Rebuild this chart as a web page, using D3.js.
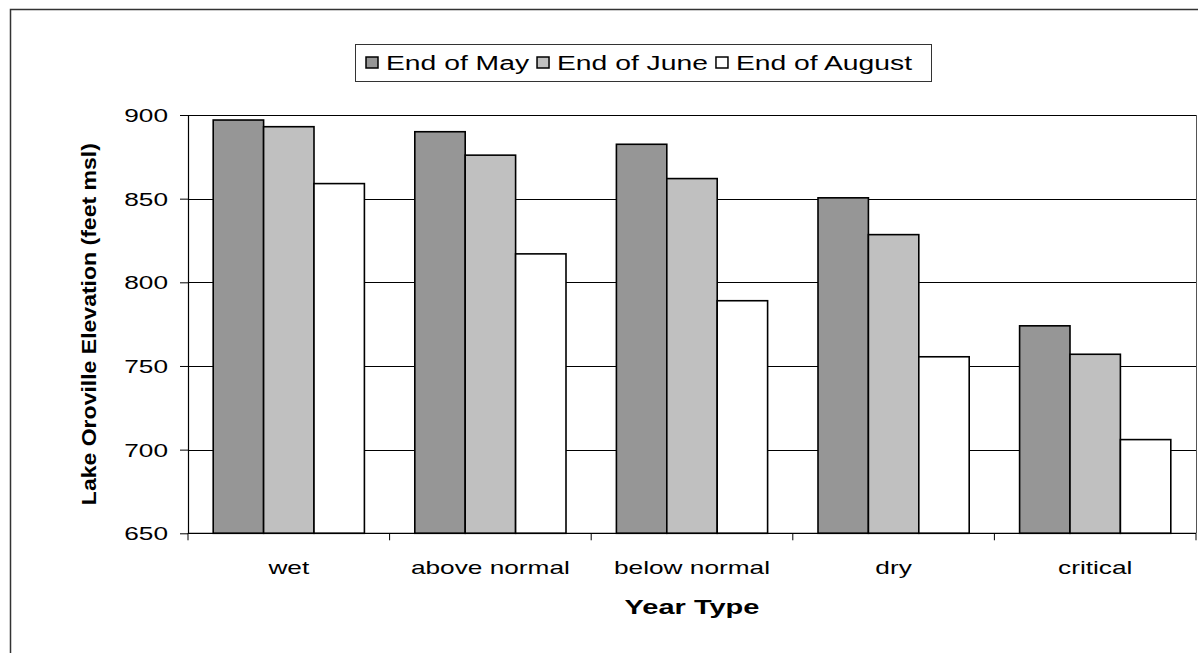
<!DOCTYPE html>
<html>
<head>
<meta charset="utf-8">
<script src="https://cdn.jsdelivr.net/npm/d3@7"></script>
<style>
  html, body { margin: 0; padding: 0; background: #fff; }
  svg { display: block; font-family: "Liberation Sans", Arial, sans-serif; }
</style>
</head>
<body>
<svg id="chart" width="1200" height="653"></svg>
<script>
// ---- data ----
const categories = ["wet", "above normal", "below normal", "dry", "critical"];
const seriesNames = ["End of May", "End of June", "End of August"];
const endOfMay    = [897, 890, 882.5, 850.5, 774];
const endOfJune   = [893, 876, 862, 828.5, 757];
const endOfAugust = [859, 817, 789, 755.5, 706];
const seriesColors = ["#969696", "#c0c0c0", "#ffffff"];
const yTickValues = [650, 700, 750, 800, 850, 900];
const yTitle = "Lake Oroville Elevation (feet msl)";
const xTitle = "Year Type";

(function () {
const seriesValues = [endOfMay, endOfJune, endOfAugust];
const rows = categories.map((c, i) => ({
  category: c,
  values: seriesNames.map((s, j) => ({ series: s, value: seriesValues[j][i], color: seriesColors[j] }))
}));

const SX = 1.41; // horizontal stretch of the original picture
function stretch(sel, k) {
  sel.each(function () {
    const w = this.getComputedTextLength();
    this.setAttribute("textLength", w * k);
    this.setAttribute("lengthAdjust", "spacingAndGlyphs");
  });
}

const svg = d3.select("#chart");

// outer frame (left and top edges visible)
svg.append("path")
  .attr("d", "M10.5,700 L10.5,9.5 L1198,9.5")
  .attr("fill", "none").attr("stroke", "#333").attr("stroke-width", 1.5);

const pLeft = 188, pRight = 1196, pTop = 115, pBottom = 533.3;

const x = d3.scaleBand().domain(categories).range([pLeft, pRight]).padding(0);
const xs = d3.scaleBand().domain(seriesNames).range([0, x.bandwidth()]).paddingInner(0).paddingOuter(0.5);
const y = d3.scaleLinear().domain([650, 900]).range([pBottom, pTop]);

// gridlines
svg.append("g").selectAll("line").data(yTickValues.filter(v => v > 650)).join("line")
  .attr("x1", pLeft).attr("x2", pRight)
  .attr("y1", d => Math.round(y(d)) + 0.5).attr("y2", d => Math.round(y(d)) + 0.5)
  .attr("stroke", "#000").attr("stroke-width", 1);

// plot area right border
svg.append("line")
  .attr("x1", pRight + 0.5).attr("x2", pRight + 0.5).attr("y1", y(900)).attr("y2", pBottom)
  .attr("stroke", "#555").attr("stroke-width", 1);

// bars
const groups = svg.append("g").selectAll("g").data(rows).join("g")
  .attr("transform", d => `translate(${x(d.category)},0)`);
groups.selectAll("rect").data(d => d.values).join("rect")
  .attr("x", d => xs(d.series))
  .attr("y", d => y(d.value))
  .attr("width", xs.bandwidth())
  .attr("height", d => pBottom - y(d.value))
  .attr("fill", d => d.color)
  .attr("stroke", "#000").attr("stroke-width", 1.6);

// y axis
const yAxis = svg.append("g").attr("transform", `translate(${pLeft},0)`)
  .call(d3.axisLeft(y).tickValues(yTickValues).tickSize(8).tickPadding(12).tickSizeOuter(0));
yAxis.select(".domain").attr("stroke", "#000").attr("stroke-width", 1.2);
yAxis.selectAll(".tick line").attr("stroke", "#000");
yAxis.selectAll(".tick text")
  .attr("font-size", "18.6px").attr("fill", "#000")
  .attr("font-family", "'Liberation Sans', Arial, sans-serif")
  .attr("dy", "0.35em");
stretch(yAxis.selectAll(".tick text"), SX);

// x axis (ticks at category boundaries)
const xg = svg.append("g");
xg.append("line").attr("x1", pLeft).attr("x2", pRight).attr("y1", pBottom).attr("y2", pBottom)
  .attr("stroke", "#000").attr("stroke-width", 1.2);
const boundaries = categories.map(c => x(c)).concat([pRight]);
xg.selectAll("line.tk").data(boundaries).join("line").attr("class", "tk")
  .attr("x1", d => d).attr("x2", d => d).attr("y1", pBottom).attr("y2", pBottom + 7)
  .attr("stroke", "#000");
const catLabels = xg.selectAll("text").data(categories).join("text")
  .attr("x", d => x(d) + x.bandwidth() / 2)
  .attr("y", 574)
  .attr("text-anchor", "middle")
  .attr("font-size", "18.6px").attr("fill", "#000")
  .text(d => d);
stretch(catLabels, SX);

// axis titles
const xt = svg.append("text")
  .attr("x", (pLeft + pRight) / 2).attr("y", 614)
  .attr("text-anchor", "middle").attr("font-weight", "bold")
  .attr("font-size", "21px").text(xTitle);
stretch(xt, 1.38);

const yt = svg.append("text")
  .attr("transform", `translate(96,${(pTop + pBottom) / 2}) rotate(-90)`)
  .attr("text-anchor", "middle").attr("font-weight", "bold")
  .attr("font-size", "21px").text(yTitle);
yt.attr("textLength", 362).attr("lengthAdjust", "spacingAndGlyphs");

// legend
const lg = svg.append("g");
lg.append("rect")
  .attr("x", 355.5).attr("y", 44.5).attr("width", 576).attr("height", 37)
  .attr("fill", "#fff").attr("stroke", "#333").attr("stroke-width", 1);
let cx = 366;
seriesNames.forEach((s, i) => {
  lg.append("rect").attr("x", cx).attr("y", 57).attr("width", 12).attr("height", 11)
    .attr("fill", seriesColors[i]).attr("stroke", "#000").attr("stroke-width", 1.5);
  cx += 12 + 8;
  const t = lg.append("text").attr("x", cx).attr("y", 70)
    .attr("font-size", "19.5px").attr("fill", "#000").text(s);
  stretch(t, 1.45);
  cx += +t.attr("textLength") + 8;
});
})();
</script>
</body>
</html>
